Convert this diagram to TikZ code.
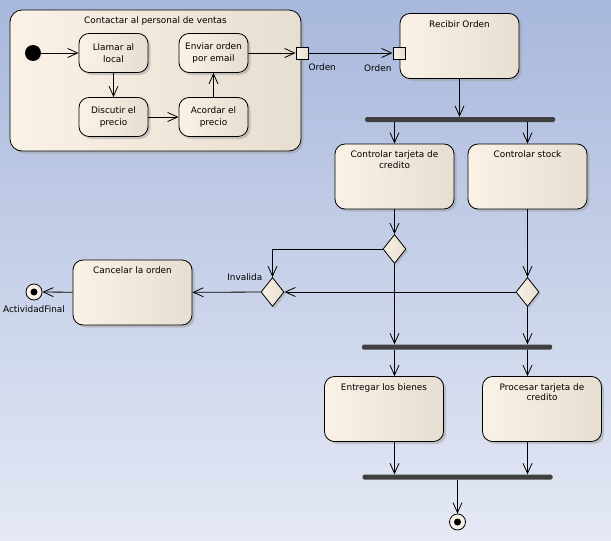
\documentclass[tikz,border=0pt]{standalone}
\usepackage{fontspec}
\setmainfont{DejaVu Sans}
\usetikzlibrary{positioning, arrows.meta, shadows, shapes.geometric}
\definecolor{BgTop}{RGB}{168, 184, 220}
\definecolor{BgBottom}{RGB}{229, 233, 245}
\definecolor{ActLeft}{RGB}{250, 242, 230}
\definecolor{ActRight}{RGB}{230, 222, 208}
\definecolor{BarColor}{RGB}{64, 64, 64}
\definecolor{LineColor}{RGB}{0, 0, 0}
\tikzset{
    action/.style={
        draw=LineColor,
        line width=0.8pt,
        rectangle,
        rounded corners=10pt,
        left color=ActLeft,
        right color=ActRight,
        drop shadow={shadow xshift=2.5pt, shadow yshift=-2.5pt, fill=black!40, opacity=0.45},
        align=center,
        font=\fontsize{8.9}{11.5}\selectfont,
        minimum width=69pt,
        minimum height=39pt,
        inner sep=2pt
    },
    bigaction/.style={action, minimum width=119pt, minimum height=65pt},
    container/.style={action, rounded corners=12pt, minimum width=291pt, minimum height=141pt},
    toptext/.style={anchor=north, yshift=-4pt, align=center, font=\fontsize{8.9}{10.5}\selectfont},
    pinlabel/.style={font=\fontsize{8.9}{10}\selectfont, inner sep=0pt},
    objpin/.style={
        draw=LineColor, line width=0.8pt, rectangle,
        left color=ActLeft, right color=ActRight,
        minimum size=12pt, inner sep=0pt
    },
    decision/.style={
        draw=LineColor, line width=0.8pt, diamond,
        left color=ActLeft, right color=ActRight,
        drop shadow={shadow xshift=2pt, shadow yshift=-2pt, fill=black!40, opacity=0.45},
        minimum width=23pt, minimum height=29pt, inner sep=0pt
    },
    syncbar/.style={
        rectangle, fill=BarColor, rounded corners=1.5pt,
        minimum width=190pt, minimum height=5pt, inner sep=0pt
    },
    startnode/.style={circle, fill=black, minimum size=16pt, inner sep=0pt},
    endnode/.style={
        circle, draw=LineColor, line width=0.8pt, fill=ActLeft,
        minimum size=16pt, inner sep=0pt,
        path picture={\fill[black] (path picture bounding box.center) circle (3.5pt);}
    },
    flow/.style={
        draw=LineColor, line width=0.8pt,
        -{Straight Barb[length=10pt, width=9pt]}
    }
}

\begin{document}
\begin{tikzpicture}[x=1pt, y=-1pt]

    % ============================================================================
    % BACKGROUND
    % ============================================================================
    \shade[top color=BgTop, bottom color=BgBottom] (0,0) rectangle (611,541);
    \useasboundingbox (0,0) rectangle (611,541);

    % ============================================================================
    % CONTACT ACTIVITY
    % ============================================================================

    \node[container, label={[toptext]north:Contactar al personal de ventas}] (Contactar) at (155.5,80.5) {};

    \node[startnode] (Inicio) at (33,53) {};
    \node[action] (Llamar) at (113.5,53) {Llamar al\\local};
    \node[action] (Discutir) at (113.5,117) {Discutir el\\precio};
    \node[action] (Acordar) at (213.5,117) {Acordar el\\precio};
    \node[action] (Enviar) at (213.5,53) {Enviar orden\\por email};

    % Output pin
    \node[objpin] (OrdenOut) at (302,53) {};
    \node[pinlabel, below right=4pt and 0pt of OrdenOut] (OrdenOutLbl) {Orden};

    % ============================================================================
    % ORDER PROCESSING
    % ============================================================================

    \node[bigaction, label={[toptext]north:Recibir Orden}] (Recibir) at (459.5,46) {};
    \node[objpin] (OrdenIn) at (399,53) {};
    \node[pinlabel, below left=5pt and 1pt of OrdenIn] (OrdenInLbl) {Orden};

    \node[syncbar] (Fork) at (460,119.5) {};

    \node[bigaction, label={[toptext]north:{Controlar tarjeta de\\credito}}] (CTarjeta) at (394.5,176.5) {};
    \node[bigaction, label={[toptext]north:Controlar stock}] (CStock) at (527.5,176.5) {};

    \node[decision] (DecTarjeta) at (394.5,249) {};
    \node[decision] (DecStock) at (527.5,292) {};
    \node[decision] (DecInvalida) at (272.5,292) {};
    \node[pinlabel, left=10pt of DecInvalida.north] (InvalidaLbl) {Invalida};

    % Cancel branch
    \node[bigaction, label={[toptext]north:Cancelar la orden}] (Cancelar) at (132.5,292.5) {};
    \node[endnode] (FinalUno) at (34,292) {};
    \node[pinlabel, below=5pt of FinalUno] (FinalLbl) {ActividadFinal};

    % Delivery branch
    \node[syncbar] (JoinUno) at (457,347) {};
    \node[bigaction, label={[toptext]north:Entregar los bienes}] (Entregar) at (384,409) {};
    \node[bigaction, label={[toptext]north:{Procesar tarjeta de\\credito}}] (Procesar) at (542,409) {};
    \node[syncbar] (JoinDos) at (457.5,477) {};
    \node[endnode] (FinalDos) at (457.5,522) {};

    % ============================================================================
    % FLOWS
    % ============================================================================

    \draw[flow] (Inicio) -- (Llamar);
    \draw[flow] (Llamar) -- (Discutir);
    \draw[flow] (Discutir) -- (Acordar);
    \draw[flow] (Acordar) -- (Enviar);
    \draw[flow] (Enviar) -- (OrdenOut);
    \draw[flow] (OrdenOut) -- (OrdenIn);

    \draw[flow] (Recibir) -- (Recibir |- Fork.north);
    \draw[flow] (CTarjeta |- Fork.south) -- (CTarjeta);
    \draw[flow] (CStock |- Fork.south) -- (CStock);
    \draw[flow] (CTarjeta) -- (DecTarjeta);
    \draw[flow] (CStock) -- (DecStock);

    % Invalid card / no stock
    \draw[flow] (DecTarjeta) -| (DecInvalida);
    \draw[flow] (DecStock) -- (DecInvalida);
    \draw[flow] (DecInvalida) -- (Cancelar);
    \draw[flow] (Cancelar) -- (FinalUno);

    % Valid order
    \draw[flow] (DecTarjeta) -- (DecTarjeta |- JoinUno.north);
    \draw[flow] (DecStock) -- (DecStock |- JoinUno.north);
    \draw[flow] (DecTarjeta |- JoinUno.south) -- (DecTarjeta |- Entregar.north);
    \draw[flow] (DecStock |- JoinUno.south) -- (DecStock |- Procesar.north);
    \draw[flow] (DecTarjeta |- Entregar.south) -- (DecTarjeta |- JoinDos.north);
    \draw[flow] (DecStock |- Procesar.south) -- (DecStock |- JoinDos.north);
    \draw[flow] (JoinDos) -- (FinalDos);

\end{tikzpicture}
\end{document}
